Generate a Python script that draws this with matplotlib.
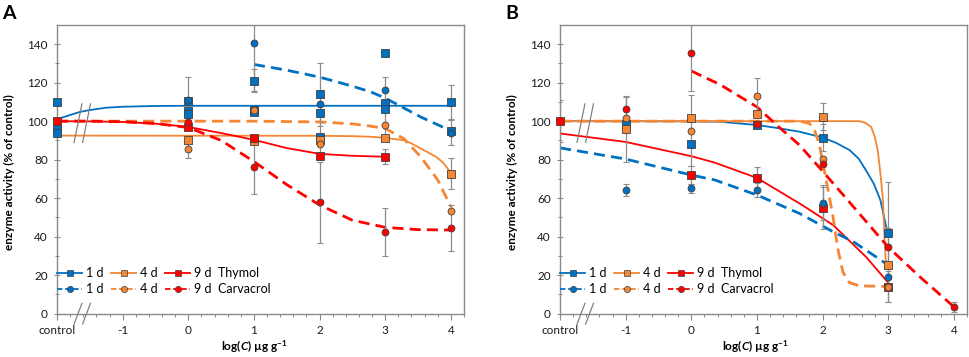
import matplotlib
matplotlib.use("Agg")
import matplotlib.pyplot as plt
from matplotlib.lines import Line2D
import numpy as np

plt.rcParams['font.family'] = ['Lato', 'DejaVu Sans']
plt.rcParams['mathtext.fontset'] = 'custom'
plt.rcParams['mathtext.rm'] = 'Lato:bold'
plt.rcParams['mathtext.it'] = 'Lato:italic:bold'
plt.rcParams['mathtext.bf'] = 'Lato:bold'

# ---------------- data: panel A ----------------
# measured points (x = log C, control drawn at -2)
A_thy1_x = [-2, -2, -2, 0, 0, 0, 1, 1, 1, 2, 2, 2, 3, 3, 3, 4, 4]
A_thy1_y = [110, 96, 94, 110.5, 105.5, 103.5, 121, 106, 105, 114, 104, 92, 135.5, 109.5, 106.5, 110, 95]
A_thy1_e = [0, 0, 0, 12.5, 0, 0, 6, 0, 0, 16.5, 0, 12, 0, 0, 0, 9, 0]
A_car1_x = [0, 1, 2, 3, 4]
A_car1_y = [111, 140.5, 109, 116, 94]
A_car1_e = [0, 25, 0, 7, 6.5]
A_thy4_x = [0, 1, 2, 3, 4]
A_thy4_y = [90, 89.5, 90, 91.3, 72.6]
A_thy4_e = [0, 0, 0, 0, 8]
A_car4_x = [0, 1, 2, 3, 4]
A_car4_y = [85.5, 106, 88, 97.8, 53.4]
A_car4_e = [4.5, 0, 0, 8, 0]
A_thy9_x = [-2, 0, 1, 2, 3]
A_thy9_y = [100, 97, 91, 82, 81.5]
A_thy9_e = [0, 0, 0, 0, 4]
A_car9_x = [0, 1, 2, 3, 4]
A_car9_y = [99.5, 76.3, 57.8, 42.3, 44.4]
A_car9_e = [0, 14, 21, 12.5, 12]

# fitted curves
A_thy1_fx = [-2, -1.8, -1.65, -1.5, -1.25, -1, -0.5, 0, 1, 2, 3, 4]
A_thy1_fy = [101, 103.2, 104.8, 105.8, 107.0, 107.5, 107.9, 108, 108, 108, 108, 108]
A_thy4_fx = [-2, 2.0, 2.5, 2.78, 3.0, 3.28, 3.39, 3.54, 3.65, 3.78, 3.88, 3.97, 4.0]
A_thy4_fy = [92.5, 92.4, 92.2, 91.9, 91.3, 90.1, 88.6, 85.8, 83.8, 81.3, 78.5, 74.5, 72.8]
A_thy9_fx = [-2, -1.5, -1, -0.5, 0, 0.5, 1, 1.5, 2, 2.5, 3]
A_thy9_fy = [100, 99.9, 99.6, 98.7, 97, 93.8, 90.3, 86, 83, 82, 81.5]
A_car1_fx = [1, 1.5, 2, 2.5, 2.78, 3, 3.54, 4]
A_car1_fy = [129.5, 126.5, 122.9, 118.2, 115.2, 112, 102.2, 95]
A_car4_fx = [-2, 0, 1, 2, 2.5, 2.78, 3, 3.28, 3.54, 3.8, 3.95, 4]
A_car4_fy = [100, 100, 100, 99.6, 98.6, 97.4, 96.2, 91, 81.5, 69.4, 59, 55.5]
A_car9_fx = [-2, -1.5, -1, -0.5, 0, 0.5, 1, 1.5, 2, 2.5, 3, 3.5, 4]
A_car9_fy = [100, 100, 99.7, 98.8, 96.7, 90, 79, 67, 56.4, 48.5, 44.8, 43.6, 43.4]

# ---------------- data: panel B ----------------
B_thy1_x = [-1, 0, 1, 2, 3]
B_thy1_y = [98.3, 88.2, 97.8, 91.5, 42]
B_thy1_e = [0, 0, 0, 7, 26.5]
B_car1_x = [-1, 0, 1, 2, 3]
B_car1_y = [64.3, 65, 64.2, 57.6, 18.8]
B_car1_e = [3, 2.5, 3.5, 9, 0]
B_thy4_x = [-1, 0, 1, 2, 3]
B_thy4_y = [95.8, 101.6, 103.8, 102.4, 25.2]
B_thy4_e = [16.8, 0, 0, 7.1, 19]
B_car4_x = [-1, 0, 1, 2, 3]
B_car4_y = [101.6, 95, 113, 80.3, 13.9]
B_car4_e = [0, 18.4, 9.7, 0, 8]
B_thy9_x = [-2, 0, 1, 2, 3]
B_thy9_y = [100, 72, 70.2, 55, 13.6]
B_thy9_e = [11, 4.5, 6, 11, 0]
B_car9_x = [-1, 0, 1, 2, 3, 4]
B_car9_y = [106.4, 135.5, 98.4, 77.7, 34.4, 3.5]
B_car9_e = [6.6, 20, 0, 0, 0, 2.5]

B_thy1_fx = [-2, 0, 0.44, 1, 1.3, 1.65, 2, 2.2, 2.41, 2.55, 2.66, 2.78, 2.88, 2.97, 3]
B_thy1_fy = [100, 99.9, 99.7, 98, 96.5, 94.5, 91.5, 88.8, 85, 80.5, 74.5, 67.5, 59, 45, 42]
B_thy4_fx = [-2, 2.56, 2.65, 2.74, 2.79, 2.84, 2.88, 2.92, 2.94, 2.96, 3]
B_thy4_fy = [100, 100, 99.2, 97, 92.5, 85, 73, 59, 42, 28, 25.2]
B_thy9_fx = [-2, -1, 0, 0.36, 1, 1.65, 2.16, 2.66, 3]
B_thy9_fy = [93.6, 89.2, 81.8, 78.4, 70.5, 57.2, 46, 29.5, 16]
B_car1_fx = [-2, -1, 0, 0.36, 1, 1.65, 2.16, 2.47, 3]
B_car1_fy = [86.1, 80.3, 72, 69.4, 61.6, 52, 42.5, 37.3, 25.2]
B_car4_fx = [-2, 1.65, 1.8, 1.88, 1.95, 2.0, 2.08, 2.16, 2.23, 2.31, 2.41, 2.56, 3]
B_car4_fy = [100, 100, 98.8, 95, 88, 79, 65, 50, 34, 21.5, 16, 14.4, 14]
B_car9_fx = [0, 0.44, 1, 1.32, 1.65, 2, 2.47, 3, 3.5, 4]
B_car9_fy = [126.1, 119, 107.4, 97.4, 87.5, 74, 55.5, 34.5, 18.5, 3.5]

xtick_pos = [-2, -1, 0, 1, 2, 3, 4]
xtick_lab = ['control', '-1', '0', '1', '2', '3', '4']

BLUE = '#0070C0'
ORANGE = '#F58634'
RED = '#FF0000'
GRID = '#8a8a8a'


def draw_panel(ax, d):
    series = [
        ('thy1', BLUE, 's', '-'), ('thy4', ORANGE, 's', '-'), ('thy9', RED, 's', '-'),
        ('car1', BLUE, 'o', '--'), ('car4', ORANGE, 'o', '--'), ('car9', RED, 'o', '--'),
    ]
    for key, col, mk, ls in series:
        fx, fy = d[key + '_fx'], d[key + '_fy']
        if ls == '-':
            ax.plot(fx, fy, color=col, lw=1.3, zorder=2)
        else:
            ax.plot(fx, fy, color=col, lw=2.0, dashes=(4, 2.2), zorder=2.1)
    for key, col, mk, ls in series:
        x, y, e = np.array(d[key + '_x']), np.array(d[key + '_y']), np.array(d[key + '_e'])
        m = e > 0
        ax.errorbar(x[m], y[m], yerr=e[m], fmt='none', ecolor='#8c8c8c', elinewidth=0.9,
                    capsize=2, capthick=0.8, zorder=3)
    for key, col, mk, ls in series:
        ax.plot(d[key + '_x'], d[key + '_y'], ls='none', marker=mk, ms=5.2 if mk == 's' else 5.0,
                mfc=col, mec='#404040', mew=0.6, zorder=4, clip_on=False)

    # axis break marks
    for x0 in (-1.74, -1.61):
        ax.plot([x0, x0 + 0.12], [89, 109], color='#808080', lw=0.9, zorder=5)
        ax.plot([x0, x0 + 0.12], [-5.5, 5.3], color='#808080', lw=0.9, zorder=5, clip_on=False)

    ax.set_xlim(-2, 4.2)
    ax.set_ylim(0, 150)
    ax.set_xticks(xtick_pos)
    ax.set_xticklabels(xtick_lab)
    ax.set_xticks(np.arange(-2, 4.21, 0.2), minor=True)
    ax.set_yticks(np.arange(0, 141, 20))
    ax.set_yticks(np.arange(0, 150, 10), minor=True)
    ax.tick_params(axis='x', which='major', direction='out', length=4, width=0.8, color=GRID,
                   labelsize=8.5, pad=4, labelcolor='#1a1a1a')
    ax.tick_params(axis='x', which='minor', direction='out', length=2.5, width=0.7, color=GRID)
    ax.tick_params(axis='y', which='major', direction='inout', length=5, width=0.8, color=GRID,
                   labelsize=8.5, pad=4, labelcolor='#1a1a1a')
    ax.tick_params(axis='y', which='minor', direction='inout', length=3, width=0.7, color=GRID)
    for s in ax.spines.values():
        s.set_color(GRID)
        s.set_linewidth(1.0)

    h = [Line2D([], [], color=BLUE, lw=1.3, marker='s', ms=4.5, mfc=BLUE, mec='#404040', mew=0.5),
         Line2D([], [], color=BLUE, lw=1.3, ls='--', dashes=(3, 1.5), marker='o', ms=4.5, mfc=BLUE, mec='#404040', mew=0.5),
         Line2D([], [], color=ORANGE, lw=1.3, marker='s', ms=4.5, mfc=ORANGE, mec='#404040', mew=0.5),
         Line2D([], [], color=ORANGE, lw=1.3, ls='--', dashes=(3, 1.5), marker='o', ms=4.5, mfc=ORANGE, mec='#404040', mew=0.5),
         Line2D([], [], color=RED, lw=1.3, marker='s', ms=4.5, mfc=RED, mec='#404040', mew=0.5),
         Line2D([], [], color=RED, lw=1.3, ls='--', dashes=(3, 1.5), marker='o', ms=4.5, mfc=RED, mec='#404040', mew=0.5)]
    labs = ['1 d', '1 d', '4 d', '4 d', '9 d  Thymol', '9 d  Carvacrol']
    ax.legend(h, labs, ncol=3, loc='lower left', bbox_to_anchor=(-0.005, 0.055), frameon=False,
              fontsize=9, handlelength=2.0, handletextpad=0.3, columnspacing=0.6,
              labelspacing=0.3, borderpad=0.2, borderaxespad=0)


A = {}
B = {}
for name, val in list(globals().items()):
    if name.startswith('A_'):
        A[name[2:]] = val
    elif name.startswith('B_'):
        B[name[2:]] = val

fig = plt.figure(figsize=(9.69, 3.57), dpi=100)
axA = fig.add_axes([57 / 969, 1 - 313.5 / 357, (464 - 57) / 969, (313.5 - 25) / 357])
axB = fig.add_axes([560 / 969, 1 - 313.5 / 357, (967 - 560) / 969, (313.5 - 25) / 357])
draw_panel(axA, A)
draw_panel(axB, B)

ylab = 'enzyme activity (% of control)'
xlab = r'log($\mathit{C}$) µg g$^{-1}$'
fig.text(9 / 969, 1 - 172 / 357, ylab, rotation=90, ha='center', va='center',
         fontsize=8.5, fontweight='bold')
fig.text(512 / 969, 1 - 172 / 357, ylab, rotation=90, ha='center', va='center',
         fontsize=8.5, fontweight='bold')
fig.text(254 / 969, 1 - 347 / 357, xlab, ha='center', va='center', fontsize=8.5, fontweight='bold')
fig.text(755 / 969, 1 - 347 / 357, xlab, ha='center', va='center', fontsize=8.5, fontweight='bold')
fig.text(2 / 969, 1 - 5 / 357, 'A', ha='left', va='top', fontsize=14, fontweight='bold')
fig.text(505 / 969, 1 - 5 / 357, 'B', ha='left', va='top', fontsize=14, fontweight='bold')

fig.savefig('out.png', dpi=100)
